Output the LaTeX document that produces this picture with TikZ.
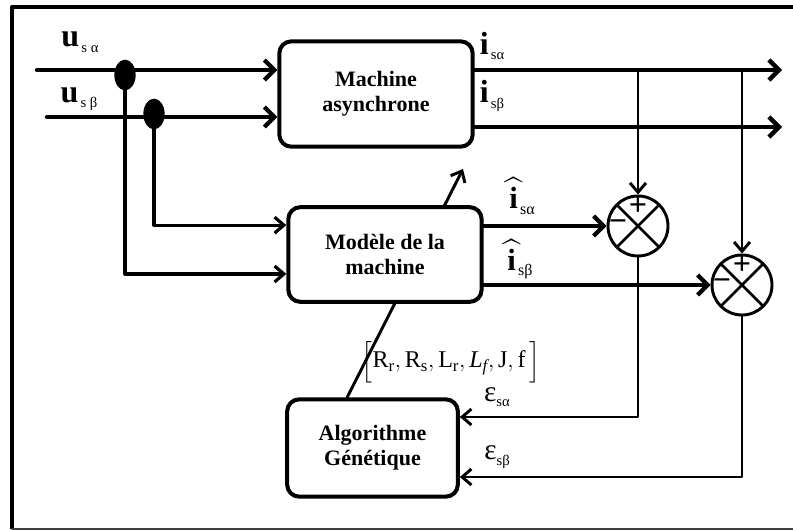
\documentclass[tikz,border=0pt]{standalone}
\usepackage{amsmath}
\usepackage{fontspec}
\setmainfont{Liberation Serif}
\usetikzlibrary{arrows.meta,positioning,shapes.geometric}

\newcommand{\sig}[2]{{\fontsize{24}{24}\selectfont\bfseries #1}\,\raisebox{-0.9ex}{\fontsize{11}{11}\selectfont #2}}
\newcommand{\sighat}[1]{{\fontsize{23}{23}\selectfont$\widehat{\mathbf{i}}$}\,\raisebox{-0.9ex}{\fontsize{12}{12}\selectfont #1}}
\newcommand{\err}[1]{{\fontsize{22}{22}\selectfont ε}\raisebox{-0.9ex}{\fontsize{11}{11}\selectfont #1}}

\begin{document}
\begin{tikzpicture}[x=0.75pt,y=-0.75pt,line cap=round,line join=round,
  bloc/.style={draw, line width=3pt, rounded corners=9pt, fill=white, align=center,
    inner sep=0pt, font=\fontsize{16.5}{19}\selectfont\bfseries},
  fil/.style={line width=3.2pt, -{Straight Barb[length=7.5pt,width=15pt]}},
  mince/.style={line width=2.2pt, -{Straight Barb[length=7pt,width=12pt]}},
  point/.style={ellipse, fill=black, inner sep=0pt, minimum width=16pt, minimum height=23pt},
  som/.style={circle, draw, line width=2.2pt, fill=white, minimum size=45pt, inner sep=0pt,
    path picture={\draw[line width=2pt] (path picture bounding box.north west) -- (path picture bounding box.south east)
      (path picture bounding box.south west) -- (path picture bounding box.north east);}},
  signe/.style={font=\fontsize{24}{24}\selectfont\bfseries, inner sep=0pt}]
  \useasboundingbox (0,0) rectangle (793,531);

  % Frame
  \draw[line width=3pt, line cap=butt] (800,7) -| (12,529);
  \draw[line width=1.2pt, black!75] (12,529) -- (800,529);

  % Blocks
  \node[bloc, minimum width=145pt, minimum height=79pt] (mas) at (376,94) {Machine\\asynchrone};
  \node[bloc, minimum width=128pt, minimum height=73pt] (ag) at (372.5,448) {Algorithme\\Génétique};

  % Parameters sent to the model (passes behind it)
  \coordinate (tip) at (463,169);
  \draw[line width=2.2pt, -{Straight Barb[length=7pt,width=12pt]}] ([xshift=-19pt]ag.north) -- (tip);

  \node[bloc, minimum width=145pt, minimum height=71pt] (mod) at (385,254.5) {Modèle de la\\machine};

  % Comparators
  \node[som] (s1) at (638,226) {};
  \node[som] (s2) at (742,285) {};
  \node[signe] (p1) at ([yshift=-9pt]s1.north) {+};
  \node[signe] (n1) at ([xshift=8.5pt]s1.west) {−};
  \node[signe] (p2) at ([yshift=-9pt]s2.north) {+};
  \node[signe] (n2) at ([xshift=8.5pt]s2.west) {−};

  % Inputs and branch points
  \coordinate (ua) at (37,70);
  \coordinate (ub) at (47,117);
  \node[point] (d1) at (125,75) {};
  \node[point] (d2) at (154,114) {};
  \draw[fil] (ua) -- (mas.west |- ua);
  \draw[fil] (ub) -- (mas.west |- ub);
  \draw[mince, line width=2.4pt] (d2.center) |- ([yshift=22pt]mod.west);
  \draw[mince, line width=2.4pt] (d1.center) |- ([yshift=-14.6pt]mod.west);

  % Outputs of the machine
  \coordinate (ya) at (782,70);
  \coordinate (yb) at (782,127);
  \draw[fil] (mas.east |- ya) -- (ya);
  \draw[fil] (mas.east |- yb) -- (yb);
  \draw[mince] (s1.north |- ya) -- (s1.north);
  \draw[mince] (s2.north |- ya) -- (s2.north);

  % Estimated currents
  \draw[fil] (mod.east |- s1.west) -- (s1.west);
  \draw[fil] (mod.east |- s2.west) -- (s2.west);

  % Errors back to the algorithm
  \draw[mince] (s1.south) |- ([yshift=23.25pt]ag.east);
  \draw[mince] (s2.south) |- ([yshift=-21.75pt]ag.east);

  % Labels
  \node (lua) at (80,42) {\sig{u}{s α}};
  \node (lub) at (79,99) {\sig{u}{s β}};
  \node (lia) at (492,46) {\sig{i}{sα}};
  \node (lib) at (492,96) {\sig{i}{sβ}};
  \node (lha) at (522,196) {\sighat{sα}};
  \node (lhb) at (520,259) {\sighat{sβ}};
  \node (lea) at (497,397) {\err{sα}};
  \node (leb) at (497,457) {\err{sβ}};
  \node[font=\fontsize{18}{18}\selectfont] (par) at (451,362)
    {$\Big[\text{R}_{\text{r}},\text{R}_{\text{s}},\text{L}_{\text{r}},\textit{L}_{\textit{f}},\text{J},\text{f}\,\Big]$};
\end{tikzpicture}
\end{document}
